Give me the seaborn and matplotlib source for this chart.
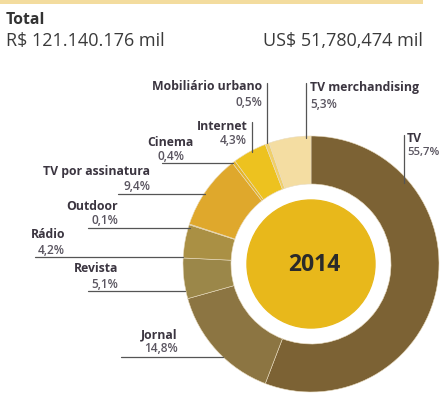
import matplotlib
matplotlib.use("Agg")
import matplotlib.pyplot as plt
import seaborn as sns

# Advertising investment share by medium, 2014
media = ["TV", "Jornal", "Revista", "Rádio", "Outdoor", "TV por assinatura",
         "Cinema", "Internet", "Mobiliário urbano", "TV merchandising"]
shares = [55.7, 14.8, 5.1, 4.2, 0.1, 9.4, 0.4, 4.3, 0.5, 5.3]
pct_labels = ["55,7%", "14,8%", "5,1%", "4,2%", "0,1%", "9,4%",
              "0,4%", "4,3%", "0,5%", "5,3%"]
colors = ["#7C6234", "#8C7542", "#9B8749", "#AA9044", "#C99E3A", "#DFA82C",
          "#E5B52A", "#EDC21F", "#F0CF6A", "#F4DDA2"]

title = "Total"
total_brl = "R$ 121.140.176 mil"
total_usd = "US$ 51,780,474 mil"
year = "2014"

sns.set_theme(style="white")
plt.rcParams["font.family"] = ["Open Sans", "DejaVu Sans"]

W, H = 442, 393
fig = plt.figure(figsize=(W / 100, H / 100), dpi=100)
ax = fig.add_axes([0, 0, 1, 1])


def Y(y):
    # top-down pixel row to axis coordinate
    return H - y


cx, cy, R = 311, 264, 128
ax.pie(shares, colors=colors, startangle=90, counterclock=False,
       center=(cx, Y(cy)), radius=R,
       wedgeprops=dict(width=48, linewidth=0.4, edgecolor="#e9dcc0"))
ax.add_patch(plt.Circle((cx, Y(cy)), 64, color="#E8B81B", zorder=3))
ax.text(cx + 3, Y(265), year, ha="center", va="center", fontsize=16.5,
        fontweight="bold", color="#2a2a2a", zorder=4)

ax.set_xlim(0, W)
ax.set_ylim(0, H)
ax.set_aspect("equal")
ax.axis("off")

# header
ax.add_patch(plt.Rectangle((0, Y(4)), 423, 4, color="#F3DC9E", lw=0))
ax.text(6, Y(20), title, ha="left", va="center", fontsize=11.4,
        fontweight="bold", color="#333333")
ax.text(6, Y(41), total_brl, ha="left", va="center", fontsize=13,
        color="#3a3a3a")
ax.text(423, Y(41), total_usd, ha="right", va="center", fontsize=13,
        color="#3a3a3a")

name_kw = dict(fontsize=8.8, fontweight="bold", color="#3b3540", va="center")
pct_kw = dict(fontsize=8.6, fontweight="semibold", color="#5a5560",
              va="center")
line_kw = dict(color="#555555", lw=0.9, zorder=5)

# left-side labels with horizontal leaders: (name x, name y, pct x, pct y, line y, x0, x1)
left = {
    "Jornal": (178, 335, 178, 349, 357, 121, 223),
    "Revista": (118, 269, 118, 284, 291, 88, 185),
    "Rádio": (65, 234, 65, 250, 257, 35, 183),
    "Outdoor": (118, 207, 118, 221, 228, 88, 190),
    "TV por assinatura": (150, 172, 150, 187, 194, 118, 205),
    "Cinema": (193, 142, 185, 156, 163, 162, 233),
}
for name, (nx, ny, px, py, ly, x0, x1) in left.items():
    i = media.index(name)
    ax.text(nx, Y(ny), name, ha="right", **name_kw)
    ax.text(px, Y(py), pct_labels[i], ha="right", **pct_kw)
    ax.plot([x0, x1], [Y(ly), Y(ly)], **line_kw)

# labels with vertical leaders: (name x, name y, pct x, pct y, line x, y0, y1, align)
upper = {
    "Internet": (248, 126, 247, 141, 252, 122, 152, "right"),
    "Mobiliário urbano": (262, 87, 262, 102, 267, 83, 143, "right"),
    "TV merchandising": (310, 88, 310, 104, 306, 83, 138, "left"),
    "TV": (407, 139, 407, 152, 404, 135, 183, "left"),
}
for name, (nx, ny, px, py, lx, y0, y1, al) in upper.items():
    i = media.index(name)
    kw = dict(pct_kw)
    if name == "TV":
        kw["fontsize"] = 8.2
    ax.text(nx, Y(ny), name, ha=al, **name_kw)
    ax.text(px, Y(py), pct_labels[i], ha=al, **kw)
    ax.plot([lx, lx], [Y(y0), Y(y1)], **line_kw)

fig.savefig("out.png", dpi=100, facecolor="white")
